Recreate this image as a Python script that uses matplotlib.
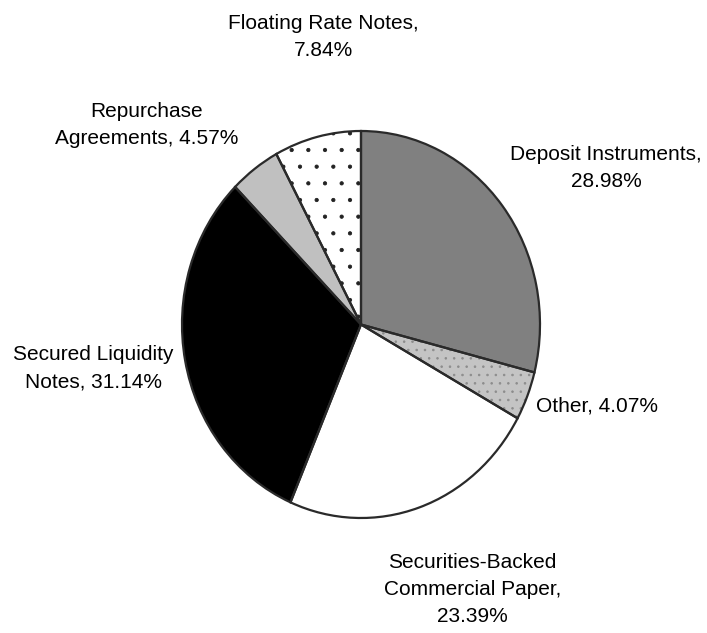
import matplotlib.pyplot as plt

labels = ["Deposit Instruments,\n28.98%", "Other, 4.07%",
          "Securities-Backed\nCommercial Paper,\n23.39%",
          "Secured Liquidity\nNotes, 31.14%",
          "Repurchase\nAgreements, 4.57%", "Floating Rate Notes,\n7.84%"]
shares = [28.98, 4.07, 23.39, 31.14, 4.57, 7.84]
fills = ["#808080", "#c4c4c4", "white", "black", "#c0c0c0", "white"]
hatches = [None, "..", None, None, None, "."]
hatch_cols = ["#808080", "#8c8c8c", "white", "black", "#c0c0c0", "#222222"]

# label anchors in figure fractions, and alignment
label_xy = [(0.857, 0.735), (0.758, 0.359), (0.668, 0.069),
            (0.132, 0.418), (0.208, 0.803), (0.458, 0.9415)]
label_ha = ["center", "left", "center", "center", "center", "center"]

plt.rcParams['font.family'] = ['Liberation Sans', 'DejaVu Sans']
plt.rcParams['hatch.linewidth'] = 0.6

fig = plt.figure(figsize=(7.07, 6.33), dpi=100)
# the pie in the picture is a little taller than wide
ax = fig.add_axes([182 / 707, 115 / 633, 358 / 707, 387 / 633])

# fill layer: edge colour doubles as hatch colour
fill_w, _ = ax.pie(shares, colors=fills, startangle=90, counterclock=False,
                   wedgeprops=dict(linewidth=0))
for w, h, hc in zip(fill_w, hatches, hatch_cols):
    w.set_edgecolor(hc)
    w.set_linewidth(0)
    if h:
        w.set_hatch(h)

# outline layer
ax.pie(shares, colors=["none"] * len(shares), startangle=90, counterclock=False,
       wedgeprops=dict(edgecolor="#2a2a2a", linewidth=1.6))

for txt, (x, y), ha in zip(labels, label_xy, label_ha):
    fig.text(x, y, txt, ha=ha, va="center", fontsize=15, linespacing=1.55)

ax.set_xlim(-1, 1)
ax.set_ylim(-1, 1)
ax.set_aspect("auto")
ax.axis("off")
fig.savefig("out.png", dpi=100)
